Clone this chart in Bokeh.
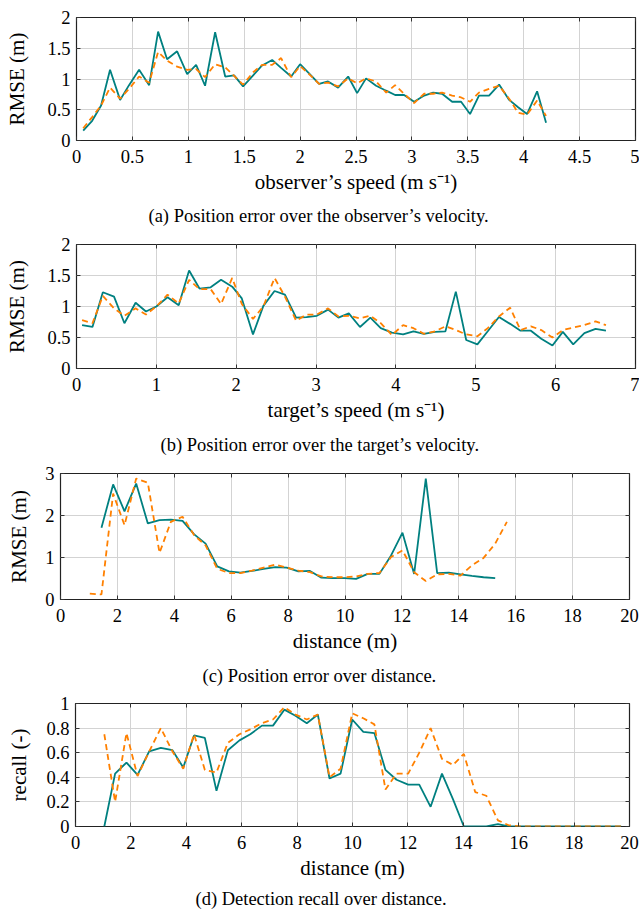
from bokeh.plotting import figure
from bokeh.models import Range1d, FixedTicker, Title, LinearAxis
from bokeh.embed import file_html
from bokeh.resources import INLINE

# ---------------- data ----------------
# (a) observer's speed
obs_speed = [0.06, 0.14, 0.22, 0.30, 0.39, 0.47, 0.56, 0.65, 0.73, 0.81,
             0.90, 0.99, 1.07, 1.15, 1.24, 1.33, 1.41, 1.49, 1.58, 1.66,
             1.75, 1.83, 1.92, 2.00, 2.08, 2.17, 2.25, 2.34, 2.43, 2.51,
             2.59, 2.68, 2.77, 2.85, 2.93, 3.02, 3.11, 3.19, 3.27, 3.36,
             3.44, 3.52, 3.60, 3.69, 3.78, 3.87, 3.95, 4.03, 4.12, 4.20]
obs_rmse_teal = [0.16, 0.32, 0.57, 1.15, 0.66, 0.90, 1.15, 0.90, 1.77, 1.32,
                 1.45, 1.08, 1.23, 0.89, 1.76, 1.04, 1.06, 0.88, 1.06, 1.22,
                 1.31, 1.18, 1.04, 1.24, 1.09, 0.92, 0.96, 0.86, 1.04, 0.77,
                 1.01, 0.89, 0.81, 0.74, 0.74, 0.63, 0.73, 0.78, 0.76, 0.63,
                 0.63, 0.43, 0.73, 0.73, 0.91, 0.66, 0.54, 0.43, 0.80, 0.29]
obs_rmse_orange = [0.20, 0.38, 0.57, 0.86, 0.68, 0.84, 1.04, 0.94, 1.44, 1.30,
                   1.20, 1.15, 1.16, 1.03, 1.24, 1.19, 1.05, 0.91, 1.11, 1.23,
                   1.23, 1.34, 1.03, 1.21, 1.08, 0.92, 0.94, 0.88, 1.01, 0.93,
                   1.01, 0.96, 0.78, 0.90, 0.76, 0.61, 0.76, 0.76, 0.78, 0.73,
                   0.70, 0.63, 0.78, 0.84, 0.89, 0.68, 0.45, 0.42, 0.65, 0.40]

# (b) target's speed
tgt_speed = [0.07, 0.20, 0.33, 0.47, 0.60, 0.74, 0.87, 1.00, 1.14, 1.28,
             1.41, 1.54, 1.68, 1.81, 1.95, 2.07, 2.21, 2.34, 2.48, 2.61,
             2.75, 2.88, 3.01, 3.15, 3.28, 3.41, 3.55, 3.68, 3.81, 3.95,
             4.09, 4.22, 4.35, 4.49, 4.62, 4.75, 4.88, 5.02, 5.15, 5.29,
             5.43, 5.56, 5.69, 5.82, 5.96, 6.09, 6.22, 6.36, 6.50, 6.63]
tgt_rmse_teal = [0.70, 0.67, 1.23, 1.16, 0.73, 1.06, 0.92, 1.00, 1.15, 1.02,
                 1.58, 1.29, 1.31, 1.43, 1.32, 1.13, 0.55, 1.01, 1.25, 1.19,
                 0.82, 0.83, 0.85, 0.95, 0.82, 0.89, 0.67, 0.82, 0.65, 0.58,
                 0.55, 0.60, 0.56, 0.59, 0.60, 1.24, 0.46, 0.39, 0.60, 0.83,
                 0.72, 0.61, 0.61, 0.48, 0.37, 0.59, 0.39, 0.57, 0.64, 0.61]
tgt_rmse_orange = [0.78, 0.73, 1.17, 0.97, 0.85, 0.97, 0.87, 1.00, 1.19, 1.05,
                   1.43, 1.28, 1.28, 1.04, 1.46, 1.04, 0.80, 1.00, 1.46, 1.16,
                   0.77, 0.87, 0.87, 0.97, 0.84, 0.85, 0.81, 0.85, 0.73, 0.54,
                   0.70, 0.65, 0.56, 0.60, 0.68, 0.62, 0.55, 0.52, 0.65, 0.84,
                   0.98, 0.62, 0.68, 0.62, 0.50, 0.62, 0.66, 0.70, 0.76, 0.70]

# (c) distance
nan = float("nan")
dist_c = [1.03, 1.44, 1.85, 2.25, 2.66, 3.07, 3.48, 3.88, 4.29, 4.70,
          5.10, 5.51, 5.92, 6.32, 6.73, 7.14, 7.55, 7.95, 8.36, 8.77,
          9.17, 9.58, 9.99, 10.39, 10.80, 11.21, 11.62, 12.02, 12.43, 12.84,
          13.24, 13.65, 14.06, 14.46, 14.87, 15.28, 15.69]
dist_rmse_teal = [nan, 1.71, 2.74, 2.10, 2.76, 1.81, 1.89, 1.90, 1.87, 1.55,
                  1.33, 0.79, 0.67, 0.64, 0.68, 0.73, 0.77, 0.76, 0.67, 0.68,
                  0.52, 0.51, 0.51, 0.49, 0.61, 0.61, 1.05, 1.59, 0.61, 2.88,
                  0.63, 0.64, 0.60, 0.56, 0.53, 0.51, nan]
dist_rmse_orange = [0.14, 0.12, 2.52, 1.77, 2.88, 2.78, 1.11, 1.85, 1.97, 1.53,
                    1.29, 0.73, 0.63, 0.63, 0.69, 0.76, 0.83, 0.76, 0.69, 0.65,
                    0.55, 0.53, 0.53, 0.55, 0.61, 0.63, 1.01, 1.17, 0.65, 0.44,
                    0.60, 0.61, 0.57, 0.81, 0.99, 1.33, 1.85]

# (d) recall over distance
dist_d = [1.04, 1.43, 1.84, 2.24, 2.66, 3.08, 3.50, 3.89, 4.28, 4.67,
          5.09, 5.50, 5.92, 6.31, 6.73, 7.13, 7.54, 7.94, 8.35, 8.75,
          9.17, 9.57, 9.99, 10.39, 10.79, 11.19, 11.59, 12.01, 12.41, 12.82,
          13.23, 13.63, 14.02, 14.43, 14.83, 15.25, 15.64, 16.05, 16.45, 16.86,
          17.27, 17.67, 18.08, 18.48, 18.89, 19.30, 19.70]
recall_teal = [0.00, 0.43, 0.52, 0.42, 0.61, 0.64, 0.62, 0.48, 0.74, 0.72,
               0.29, 0.62, 0.70, 0.75, 0.82, 0.82, 0.95, 0.90, 0.84, 0.91,
               0.39, 0.43, 0.87, 0.77, 0.76, 0.46, 0.38, 0.34, 0.34, 0.16,
               0.43, 0.22, 0.00, 0.00, 0.00, 0.02, 0.00, 0.00, 0.00, 0.00,
               0.00, 0.00, 0.00, 0.00, 0.00, 0.00, 0.00]
recall_orange = [0.75, 0.20, 0.76, 0.41, 0.61, 0.80, 0.61, 0.47, 0.75, 0.46,
                 0.44, 0.68, 0.75, 0.79, 0.84, 0.87, 0.97, 0.91, 0.87, 0.91,
                 0.40, 0.47, 0.92, 0.88, 0.83, 0.30, 0.43, 0.43, 0.60, 0.80,
                 0.55, 0.50, 0.59, 0.28, 0.25, 0.05, 0.01, 0.00, 0.00, 0.00,
                 0.00, 0.00, 0.00, 0.00, 0.00, 0.00, 0.00]

# ticks
xt_a = [0, 0.5, 1, 1.5, 2, 2.5, 3, 3.5, 4, 4.5, 5]
xl_a = ["0", "0.5", "1", "1.5", "2", "2.5", "3", "3.5", "4", "4.5", "5"]
xt_b = [0, 1, 2, 3, 4, 5, 6, 7]
xl_b = ["0", "1", "2", "3", "4", "5", "6", "7"]
xt_cd = [0, 2, 4, 6, 8, 10, 12, 14, 16, 18, 20]
xl_cd = ["0", "2", "4", "6", "8", "10", "12", "14", "16", "18", "20"]
yt_ab = [0, 0.5, 1, 1.5, 2]
yl_ab = ["0", "0.5", "1", "1.5", "2"]
yt_c = [0, 1, 2, 3]
yl_c = ["0", "1", "2", "3"]
yt_d = [0, 0.2, 0.4, 0.6, 0.8, 1]
yl_d = ["0", "0.2", "0.4", "0.6", "0.8", "1"]

TEAL = "#008080"
ORANGE = "#ff8000"
FONT = "Liberation Serif"
PAGE_W = 639


def make_fig(height, top, bottom, left, right, xr, yr, xt, xl, yt, yl,
             xlabel, ylabel, caption, ylab_standoff, cap_offset, cap_standoff):
    p = figure(width=PAGE_W, height=height, output_backend="svg",
               toolbar_location=None, x_range=Range1d(*xr), y_range=Range1d(*yr),
               min_border_left=left, min_border_right=right,
               min_border_top=top, min_border_bottom=bottom)
    p.background_fill_color = "white"
    p.border_fill_color = "white"
    p.outline_line_color = "#222222"
    p.outline_line_width = 1.2
    for ax, ticks, labels in ((p.xaxis[0], xt, xl), (p.yaxis[0], yt, yl)):
        ax.ticker = FixedTicker(ticks=ticks)
        ax.major_label_overrides = {t: s for t, s in zip(ticks, labels)}
        ax.major_label_text_font = FONT
        ax.major_label_text_font_size = "18.5px"
        ax.major_label_text_color = "black"
        ax.axis_label_text_font = FONT
        ax.axis_label_text_font_size = "21px"
        ax.axis_label_text_font_style = "normal"
        ax.axis_label_text_color = "black"
        ax.axis_line_color = None
        ax.major_tick_in = 4
        ax.major_tick_out = 0
        ax.major_tick_line_color = "#333333"
        ax.minor_tick_line_color = None
    p.xaxis[0].axis_label = xlabel
    p.yaxis[0].axis_label = ylabel
    p.xaxis[0].major_label_standoff = 9
    p.xaxis[0].axis_label_standoff = 4
    p.yaxis[0].major_label_standoff = 6
    p.yaxis[0].axis_label_standoff = ylab_standoff
    # tick marks on the top and right edges (no labels)
    for side, ticks in (("above", xt), ("right", yt)):
        ax2 = LinearAxis(ticker=FixedTicker(ticks=ticks))
        ax2.major_label_text_font_size = "1px"
        ax2.major_label_text_color = None
        ax2.major_label_standoff = 0
        ax2.axis_line_color = None
        ax2.major_tick_in = 4
        ax2.major_tick_out = 0
        ax2.major_tick_line_color = "#333333"
        ax2.minor_tick_line_color = None
        p.add_layout(ax2, side)
    p.xgrid.ticker = FixedTicker(ticks=xt)
    p.ygrid.ticker = FixedTicker(ticks=yt)
    p.xgrid.grid_line_color = "#d3d3d3"
    p.ygrid.grid_line_color = "#d3d3d3"
    p.xgrid.grid_line_width = 1
    p.ygrid.grid_line_width = 1
    t = Title(text=caption, align="left", text_font=FONT,
              text_font_size="18.5px", text_font_style="normal",
              text_color="black", standoff=cap_standoff, offset=cap_offset)
    p.add_layout(t, "below")
    return p


fa = make_fig(236, 17, 96, 76, 4, (0, 5), (0, 2), xt_a, xl_a, yt_ab, yl_ab,
              "observer\u2019s speed (m s\u207b\u00b9)", "RMSE (m)",
              "(a) Position error over the observer\u2019s velocity.", 15, 72, 15)
fa.line(obs_speed, obs_rmse_teal, line_color=TEAL, line_width=1.8)
fa.line(obs_speed, obs_rmse_orange, line_color=ORANGE, line_width=1.8,
        line_dash="6 4")

fb = make_fig(228, 8, 96, 76, 4, (0, 7), (0, 2), xt_b, xl_b, yt_ab, yl_ab,
              "target\u2019s speed (m s\u207b\u00b9)", "RMSE (m)",
              "(b) Position error over the target\u2019s velocity.", 15, 84, 17)
fb.line(tgt_speed, tgt_rmse_teal, line_color=TEAL, line_width=1.8)
fb.line(tgt_speed, tgt_rmse_orange, line_color=ORANGE, line_width=1.8,
        line_dash="6 4")

fc = make_fig(231, 9, 96, 60, 10, (0, 20), (0, 3), xt_cd, xl_cd, yt_c, yl_c,
              "distance (m)", "RMSE (m)",
              "(c) Position error over distance.", 11, 142, 17)
fc.line(dist_c, dist_rmse_teal, line_color=TEAL, line_width=1.8)
fc.line(dist_c, dist_rmse_orange, line_color=ORANGE, line_width=1.8,
        line_dash="6 4")

fd = make_fig(217, 8, 86, 75, 10, (0, 20), (0, 1), xt_cd, xl_cd, yt_d, yl_d,
              "distance (m)", "recall (-)",
              "(d) Detection recall over distance.", 12, 120, 8)
fd.line(dist_d, recall_teal, line_color=TEAL, line_width=1.8)
fd.line(dist_d, recall_orange, line_color=ORANGE, line_width=1.8,
        line_dash="6 4")

# separate roots, stacked on the page, so each panel keeps its own frame
open("out.html", "w").write(file_html([fa, fb, fc, fd], INLINE))
